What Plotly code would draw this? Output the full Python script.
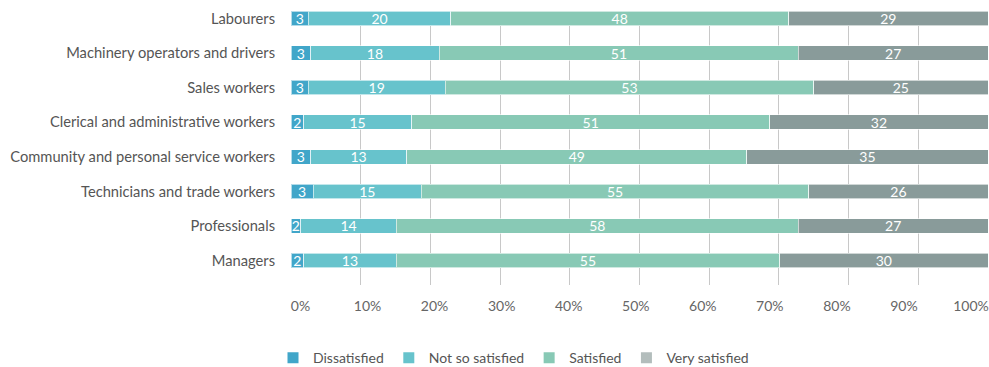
import plotly.graph_objects as go

categories = [
    "Labourers",
    "Machinery operators and drivers",
    "Sales workers",
    "Clerical and administrative workers",
    "Community and personal service workers",
    "Technicians and trade workers",
    "Professionals",
    "Managers",
]
series_names = ["Dissatisfied", "Not so satisfied", "Satisfied", "Very satisfied"]

# Bar segment shares (%)
dissatisfied = [2.5, 2.8, 2.5, 1.8, 2.8, 3.2, 1.4, 1.8]
not_so_satisfied = [20.4, 18.5, 19.6, 15.5, 13.8, 15.5, 13.7, 13.3]
satisfied = [48.5, 51.5, 52.9, 51.4, 48.8, 55.6, 57.7, 55.0]
very_satisfied = [28.6, 27.2, 25.0, 31.3, 34.6, 25.7, 27.2, 29.9]

# Value labels printed on the bars
dissatisfied_lbl = ["3", "3", "3", "2", "3", "3", "2", "2"]
not_so_satisfied_lbl = ["20", "18", "19", "15", "13", "15", "14", "13"]
satisfied_lbl = ["48", "51", "53", "51", "49", "55", "58", "55"]
very_satisfied_lbl = ["29", "27", "25", "32", "35", "26", "27", "30"]

tick_vals = [0, 10, 20, 30, 40, 50, 60, 70, 80, 90, 100]
tick_text = ["0%", "10%", "20%", "30%", "40%", "50%", "60%", "70%", "80%", "90%", "100%"]

bar_colors = ["#41a6c9", "#67c3cc", "#88c9b5", "#899b9a"]
legend_colors = ["#41a6c9", "#67c3cc", "#88c9b5", "#b3bdbc"]

FONT = "Lato"

fig = go.Figure()
values = [dissatisfied, not_so_satisfied, satisfied, very_satisfied]
labels = [dissatisfied_lbl, not_so_satisfied_lbl, satisfied_lbl, very_satisfied_lbl]
for name, vals, lbls, col in zip(series_names, values, labels, bar_colors):
    fig.add_trace(go.Bar(
        y=categories, x=vals, name=name, orientation="h",
        xaxis="x", yaxis="y",
        marker=dict(color=col, line=dict(color="rgba(255,255,255,0.6)", width=1)),
        text=lbls, textposition="inside", insidetextanchor="middle",
        constraintext="none", textangle=0,
        textfont=dict(color="white", size=14, family=FONT),
        width=0.42, showlegend=False, hoverinfo="x+y+name",
    ))

for name, col in zip(series_names, legend_colors):
    fig.add_trace(go.Scatter(
        x=[None], y=[None], mode="markers", name=name,
        xaxis="x", yaxis="y",
        marker=dict(symbol="square", size=11, color=col),
        showlegend=True,
    ))

# invisible trace so the tick-label axis is drawn
fig.add_trace(go.Scatter(x=[None], y=[None], xaxis="x2", yaxis="y",
                         showlegend=False, hoverinfo="skip"))

W = 989
H = 367
L = 291
plot_w = W - L - 1

fig.update_layout(
    width=W, height=H,
    margin=dict(l=L, r=1, t=11, b=82, autoexpand=False),
    barmode="stack",
    plot_bgcolor="rgba(0,0,0,0)", paper_bgcolor="white",
    font=dict(family=FONT, size=14, color="#555555"),
    xaxis=dict(
        type="linear", range=[0, 100], tickvals=tick_vals, showticklabels=False,
        showgrid=True, gridcolor="#c8c8c8", gridwidth=1, automargin=False,
        zeroline=False, showline=False, fixedrange=True,
    ),
    xaxis2=dict(
        type="linear", automargin=False,
        domain=[9.5 / plot_w, 680 / plot_w],
        anchor="y", range=[0, 100],
        tickvals=tick_vals, ticktext=tick_text,
        showgrid=False, zeroline=False, showline=False, ticks="",
        tickfont=dict(size=14, color="#666666", family=FONT),
        ticklabelstandoff=11,
    ),
    yaxis=dict(
        type="category", automargin=False,
        categoryorder="array", categoryarray=list(reversed(categories)),
        range=[-0.709, 7.217], showgrid=False, zeroline=False,
        showline=False, ticks="", ticklabelstandoff=15,
        tickfont=dict(size=14.7, color="#555555", family=FONT),
    ),
    legend=dict(
        orientation="h", traceorder="normal",
        x=-18 / plot_w, xanchor="left",
        y=-0.209, yanchor="top",
        font=dict(size=14, color="#555555", family=FONT),
        itemclick=False, itemdoubleclick=False,
    ),
)

fig.write_html(
    "out.html",
    config={"displayModeBar": False},
    post_script="document.body.style.margin='0';"
                "document.documentElement.style.overflow='hidden';",
)
